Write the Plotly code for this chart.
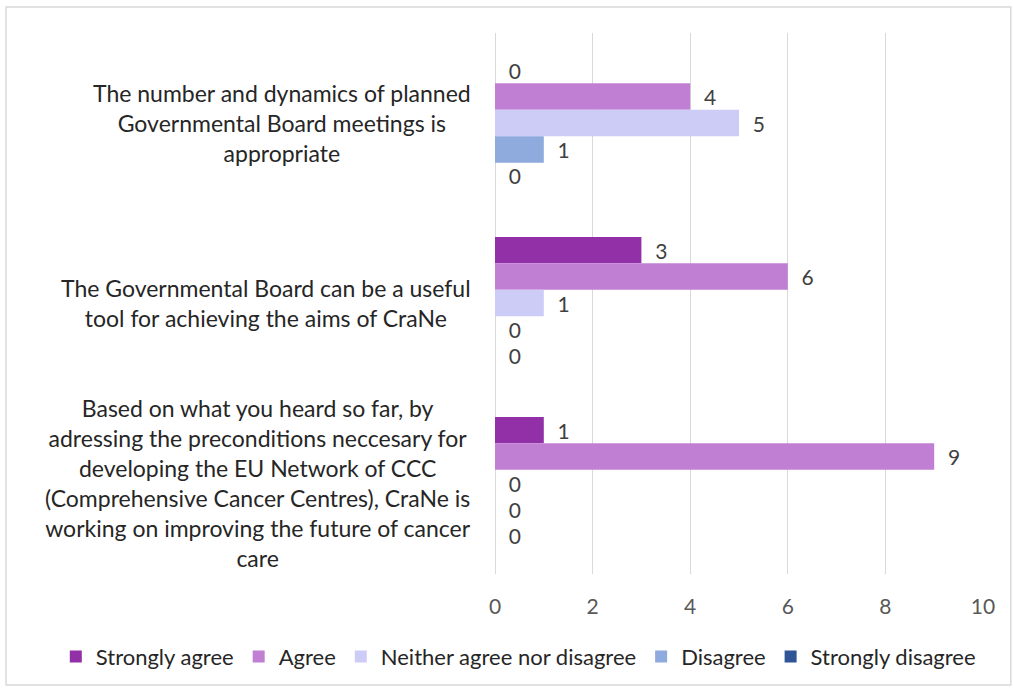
import plotly.graph_objects as go

# Survey statements (top to bottom)
statements = [
    "The number and dynamics of planned<br>Governmental Board meetings is<br>appropriate",
    "The Governmental Board can be a useful<br>tool for achieving the aims of CraNe",
    "Based on what you heard so far, by<br>adressing the preconditions neccesary for<br>developing the EU Network of CCC<br>(Comprehensive Cancer Centres), CraNe is<br>working on improving the future of cancer<br>care",
]
keys = ["q1", "q2", "q3"]

# Response counts per answer option, one value per statement
strongly_agree = [0, 3, 1]
agree = [4, 6, 9]
neither = [5, 1, 0]
disagree = [1, 0, 0]
strongly_disagree = [0, 0, 0]

series_names = ["Strongly agree", "Agree", "Neither agree nor disagree", "Disagree", "Strongly disagree"]
series_values = [strongly_agree, agree, neither, disagree, strongly_disagree]
series_colors = ["#9230A8", "#C07FD3", "#CCCCF7", "#8FAADC", "#2F5597"]

x_ticks = [0, 2, 4, 6, 8, 10]

FONT = "Lato"
TXT = "#404040"

fig = go.Figure()
for name, vals, col in zip(series_names, series_values, series_colors):
    fig.add_trace(go.Bar(
        y=keys, x=vals, name=name, orientation="h",
        marker=dict(color=col, line=dict(width=0)),
        text=vals, texttemplate="\u00a0\u00a0%{x}", textposition="outside",
        textfont=dict(family=FONT, size=21, color=TXT),
        cliponaxis=False,
    ))

# Multi-line category labels on the left, centred within their own block
for key, label in zip(keys, statements):
    fig.add_annotation(
        x=-0.045, xref="paper", y=key, yref="y",
        text=label, showarrow=False, align="center",
        xanchor="right", yanchor="middle",
        font=dict(family=FONT, size=23, color="#262626"),
    )

# Outer chart frame
fig.add_shape(type="rect", xref="paper", yref="paper",
              x0=-1.002, x1=1.057, y0=-0.205, y1=1.048,
              line=dict(color="#D9D9D9", width=1.5), fillcolor="rgba(0,0,0,0)", layer="below")

fig.update_layout(
    width=1013, height=688,
    margin=dict(l=495, r=30, t=33, b=114, autoexpand=False),
    paper_bgcolor="white", plot_bgcolor="white",
    barmode="group", bargap=0.266, bargroupgap=0,
    font=dict(family=FONT, size=21, color=TXT),
    showlegend=True,
    legend=dict(orientation="h", x=-0.9, xref="paper", xanchor="left",
                y=-0.153, yref="paper", yanchor="middle",
                font=dict(family=FONT, size=22, color="#262626"),
                itemwidth=30, tracegroupgap=0, traceorder="normal"),
    xaxis=dict(range=[0, 10], tickvals=x_ticks, showgrid=True, gridcolor="#D9D9D9",
               gridwidth=1, zeroline=True, zerolinecolor="#D9D9D9", zerolinewidth=1,
               showline=False, ticks="", tickfont=dict(family=FONT, size=21, color="#595959"),
               ticklabelstandoff=18),
    yaxis=dict(autorange="reversed", showticklabels=False, showgrid=False,
               zeroline=False, showline=False, ticks=""),
)

fig.write_html("out.html")
